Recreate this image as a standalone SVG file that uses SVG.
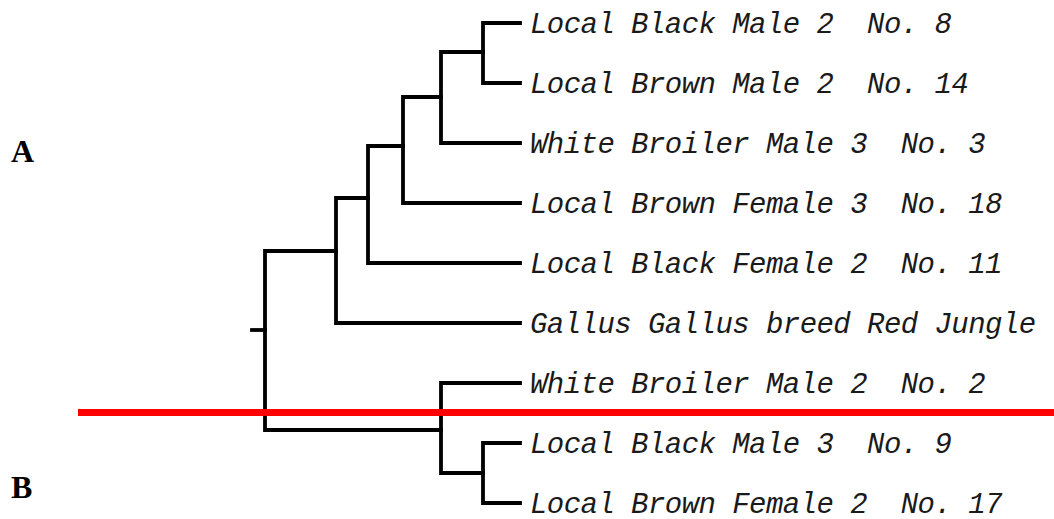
<svg xmlns="http://www.w3.org/2000/svg" width="1054" height="519" viewBox="0 0 1054 519" xml:space="preserve">
<style>
.br{fill:none;stroke:#000;stroke-width:3.8;stroke-linecap:square;stroke-linejoin:miter}
.lb{font-family:"Liberation Mono",monospace;font-style:italic;font-size:29px;letter-spacing:-0.55px;fill:#1a1a1a;white-space:pre}
.grp{font-family:"Liberation Serif",serif;font-weight:bold;font-size:32px;fill:#000}
</style>
<rect width="1054" height="519" fill="#fff"/>
<g id="connectors">
<path class="br" d="M520,23 H483 V83 H520"/>
<path class="br" d="M483,52 H441 V143 H520"/>
<path class="br" d="M441,97 H403 V203 H520"/>
<path class="br" d="M403,146 H368 V263 H520"/>
<path class="br" d="M368,198 H336 V323 H520"/>
<path class="br" d="M520,443 H483 V503 H520"/>
<path class="br" d="M520,383 H441 V473 H483"/>
<path class="br" d="M336,251 H265 V430 H441"/>
<path class="br" d="M252,330 H265"/>
</g>
<g id="leaf1"><text class="lb" x="530" y="33">Local Black Male 2  No. 8</text></g>
<g id="leaf2"><text class="lb" x="530" y="93">Local Brown Male 2  No. 14</text></g>
<g id="leaf3"><text class="lb" x="530" y="153">White Broiler Male 3  No. 3</text></g>
<g id="leaf4"><text class="lb" x="530" y="213">Local Brown Female 3  No. 18</text></g>
<g id="leaf5"><text class="lb" x="530" y="273">Local Black Female 2  No. 11</text></g>
<g id="leaf6"><text class="lb" x="530" y="333">Gallus Gallus breed Red Jungle</text></g>
<g id="leaf7"><text class="lb" x="530" y="393">White Broiler Male 2  No. 2</text></g>
<g id="leaf8"><text class="lb" x="530" y="453">Local Black Male 3  No. 9</text></g>
<g id="leaf9"><text class="lb" x="530" y="513">Local Brown Female 2  No. 17</text></g>
<g id="divider"><rect x="78" y="409" width="976" height="7" fill="#f00"/></g>
<g id="labelA"><text class="grp" x="11" y="162">A</text></g>
<g id="labelB"><text class="grp" x="11" y="498">B</text></g>
</svg>
